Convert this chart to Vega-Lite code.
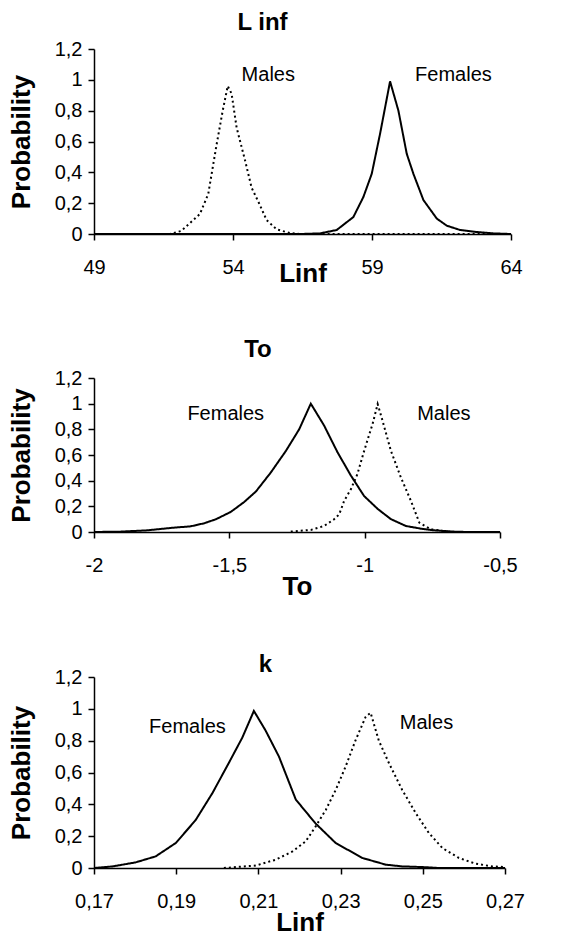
{
  "$schema": "https://vega.github.io/schema/vega-lite/v6.json",
  "padding": {"left": 8, "top": 11, "right": 5, "bottom": 0},
  "background": "white",
  "config": {
    "font": "Liberation Sans",
    "view": {"stroke": null},
    "title": {"fontSize": 24, "fontWeight": "bold", "color": "black", "font": "Liberation Sans"},
    "axis": {
      "domainColor": "black", "tickColor": "black", "labelColor": "black", "titleColor": "black",
      "labelFontSize": 20, "titleFontSize": 26, "titleFontWeight": "bold", "grid": false,
      "tickSize": 6, "domainWidth": 1.5, "tickWidth": 1.5, "labelFont": "Liberation Sans", "titleFont": "Liberation Sans",
      "labelExpr": "replace(toString(datum.value), '.', ',')"
    },
    "axisX": {"labelBaseline": "alphabetic", "labelPadding": 33, "titleBaseline": "alphabetic", "labelFlush": false},
    "axisY": {"labelPadding": 6, "titlePadding": 20, "values": [0, 0.2, 0.4, 0.6, 0.8, 1, 1.2]},
    "text": {"fontSize": 20, "color": "black", "font": "Liberation Sans"}
  },
  "datasets": {
    "linf": [
      {"x": 49, "p": 0, "sex": "Males"}, {"x": 51.0, "p": 0, "sex": "Males"}, {"x": 51.73, "p": 0, "sex": "Males"},
      {"x": 52.14, "p": 0.02, "sex": "Males"}, {"x": 52.81, "p": 0.13, "sex": "Males"}, {"x": 53.11, "p": 0.26, "sex": "Males"},
      {"x": 53.41, "p": 0.58, "sex": "Males"}, {"x": 53.63, "p": 0.8, "sex": "Males"}, {"x": 53.81, "p": 0.96, "sex": "Males"},
      {"x": 53.95, "p": 0.91, "sex": "Males"}, {"x": 54.13, "p": 0.69, "sex": "Males"}, {"x": 54.43, "p": 0.48, "sex": "Males"},
      {"x": 54.67, "p": 0.3, "sex": "Males"}, {"x": 54.91, "p": 0.21, "sex": "Males"}, {"x": 55.21, "p": 0.09, "sex": "Males"},
      {"x": 55.57, "p": 0.03, "sex": "Males"}, {"x": 56.05, "p": 0.006, "sex": "Males"}, {"x": 56.41, "p": 0, "sex": "Males"},
      {"x": 64, "p": 0, "sex": "Males"},
      {"x": 49, "p": 0, "sex": "Females"}, {"x": 56.41, "p": 0, "sex": "Females"}, {"x": 57.13, "p": 0.004, "sex": "Females"},
      {"x": 57.73, "p": 0.026, "sex": "Females"}, {"x": 58.33, "p": 0.11, "sex": "Females"}, {"x": 58.69, "p": 0.24, "sex": "Females"},
      {"x": 58.99, "p": 0.39, "sex": "Females"}, {"x": 59.29, "p": 0.65, "sex": "Females"}, {"x": 59.65, "p": 0.99, "sex": "Females"},
      {"x": 59.95, "p": 0.8, "sex": "Females"}, {"x": 60.25, "p": 0.52, "sex": "Females"}, {"x": 60.49, "p": 0.39, "sex": "Females"},
      {"x": 60.85, "p": 0.22, "sex": "Females"}, {"x": 61.33, "p": 0.1, "sex": "Females"}, {"x": 61.69, "p": 0.054, "sex": "Females"},
      {"x": 62.17, "p": 0.026, "sex": "Females"}, {"x": 62.77, "p": 0.013, "sex": "Females"}, {"x": 63.37, "p": 0.004, "sex": "Females"},
      {"x": 64, "p": 0, "sex": "Females"}
    ],
    "linfLabels": [
      {"x": 54.31, "p": 1.03, "label": "Males"},
      {"x": 60.55, "p": 1.03, "label": "Females"}
    ],
    "to": [
      {"x": -2, "p": 0, "sex": "Females"}, {"x": -1.901, "p": 0.003, "sex": "Females"}, {"x": -1.803, "p": 0.013, "sex": "Females"},
      {"x": -1.704, "p": 0.034, "sex": "Females"}, {"x": -1.643, "p": 0.044, "sex": "Females"}, {"x": -1.593, "p": 0.068, "sex": "Females"},
      {"x": -1.55, "p": 0.099, "sex": "Females"}, {"x": -1.495, "p": 0.156, "sex": "Females"}, {"x": -1.445, "p": 0.234, "sex": "Females"},
      {"x": -1.402, "p": 0.315, "sex": "Females"}, {"x": -1.347, "p": 0.463, "sex": "Females"}, {"x": -1.291, "p": 0.632, "sex": "Females"},
      {"x": -1.242, "p": 0.8, "sex": "Females"}, {"x": -1.199, "p": 1.0, "sex": "Females"}, {"x": -1.15, "p": 0.83, "sex": "Females"},
      {"x": -1.1, "p": 0.62, "sex": "Females"}, {"x": -1.051, "p": 0.44, "sex": "Females"}, {"x": -1.002, "p": 0.28, "sex": "Females"},
      {"x": -0.952, "p": 0.18, "sex": "Females"}, {"x": -0.903, "p": 0.1, "sex": "Females"}, {"x": -0.848, "p": 0.047, "sex": "Females"},
      {"x": -0.792, "p": 0.026, "sex": "Females"}, {"x": -0.743, "p": 0.013, "sex": "Females"}, {"x": -0.669, "p": 0.003, "sex": "Females"},
      {"x": -0.62, "p": 0, "sex": "Females"}, {"x": -0.5, "p": 0, "sex": "Females"},
      {"x": -1.273, "p": 0.003, "sex": "Males"}, {"x": -1.199, "p": 0.016, "sex": "Males"}, {"x": -1.15, "p": 0.047, "sex": "Males"},
      {"x": -1.113, "p": 0.099, "sex": "Males"}, {"x": -1.094, "p": 0.138, "sex": "Males"}, {"x": -1.076, "p": 0.242, "sex": "Males"},
      {"x": -1.051, "p": 0.333, "sex": "Males"}, {"x": -1.027, "p": 0.45, "sex": "Males"}, {"x": -1.002, "p": 0.632, "sex": "Males"},
      {"x": -0.971, "p": 0.84, "sex": "Males"}, {"x": -0.952, "p": 0.997, "sex": "Males"}, {"x": -0.934, "p": 0.867, "sex": "Males"},
      {"x": -0.903, "p": 0.632, "sex": "Males"}, {"x": -0.866, "p": 0.424, "sex": "Males"}, {"x": -0.829, "p": 0.242, "sex": "Males"},
      {"x": -0.798, "p": 0.073, "sex": "Males"}, {"x": -0.755, "p": 0.021, "sex": "Males"}, {"x": -0.693, "p": 0.003, "sex": "Males"}
    ],
    "toLabels": [
      {"x": -1.655, "p": 0.92, "label": "Females"},
      {"x": -0.806, "p": 0.92, "label": "Males"}
    ],
    "k": [
      {"x": 0.17, "p": 0, "sex": "Females"}, {"x": 0.1745, "p": 0.01, "sex": "Females"}, {"x": 0.1801, "p": 0.035, "sex": "Females"},
      {"x": 0.185, "p": 0.073, "sex": "Females"}, {"x": 0.1899, "p": 0.157, "sex": "Females"}, {"x": 0.1947, "p": 0.3, "sex": "Females"},
      {"x": 0.1988, "p": 0.47, "sex": "Females"}, {"x": 0.2028, "p": 0.66, "sex": "Females"}, {"x": 0.2061, "p": 0.82, "sex": "Females"},
      {"x": 0.2089, "p": 0.987, "sex": "Females"}, {"x": 0.2117, "p": 0.866, "sex": "Females"}, {"x": 0.215, "p": 0.7, "sex": "Females"},
      {"x": 0.2191, "p": 0.43, "sex": "Females"}, {"x": 0.2239, "p": 0.28, "sex": "Females"}, {"x": 0.2288, "p": 0.157, "sex": "Females"},
      {"x": 0.2353, "p": 0.063, "sex": "Females"}, {"x": 0.241, "p": 0.021, "sex": "Females"}, {"x": 0.245, "p": 0.01, "sex": "Females"},
      {"x": 0.2499, "p": 0.006, "sex": "Females"}, {"x": 0.2539, "p": 0, "sex": "Females"}, {"x": 0.27, "p": 0, "sex": "Females"},
      {"x": 0.2016, "p": 0, "sex": "Males"}, {"x": 0.2093, "p": 0.015, "sex": "Males"}, {"x": 0.2142, "p": 0.052, "sex": "Males"},
      {"x": 0.2183, "p": 0.104, "sex": "Males"}, {"x": 0.2215, "p": 0.167, "sex": "Males"}, {"x": 0.2239, "p": 0.26, "sex": "Males"},
      {"x": 0.2264, "p": 0.365, "sex": "Males"}, {"x": 0.2288, "p": 0.49, "sex": "Males"}, {"x": 0.2312, "p": 0.636, "sex": "Males"},
      {"x": 0.2336, "p": 0.8, "sex": "Males"}, {"x": 0.2361, "p": 0.95, "sex": "Males"}, {"x": 0.2373, "p": 0.975, "sex": "Males"},
      {"x": 0.2393, "p": 0.8, "sex": "Males"}, {"x": 0.2418, "p": 0.657, "sex": "Males"}, {"x": 0.245, "p": 0.49, "sex": "Males"},
      {"x": 0.2483, "p": 0.344, "sex": "Males"}, {"x": 0.2515, "p": 0.219, "sex": "Males"}, {"x": 0.2548, "p": 0.125, "sex": "Males"},
      {"x": 0.2588, "p": 0.063, "sex": "Males"}, {"x": 0.2629, "p": 0.027, "sex": "Males"}, {"x": 0.2669, "p": 0.01, "sex": "Males"},
      {"x": 0.27, "p": 0.006, "sex": "Males"}
    ],
    "kLabels": [
      {"x": 0.1834, "p": 0.887, "label": "Females"},
      {"x": 0.2444, "p": 0.908, "label": "Males"}
    ]
  },
  "spacing": 52,
  "vconcat": [
    {
      "width": 417, "height": 185,
      "title": {"text": "L inf", "dx": -40, "offset": 4},
      "layer": [
        {
          "data": {"name": "linf"},
          "mark": {"type": "line", "color": "black", "strokeWidth": 2},
          "encoding": {
            "x": {"field": "x", "type": "quantitative", "scale": {"domain": [49, 64], "nice": false, "zero": false},
                  "axis": {"values": [49, 54, 59, 64], "title": "Linf", "titleY": 47}},
            "y": {"field": "p", "type": "quantitative", "scale": {"domain": [0, 1.2], "nice": false}, "axis": {"title": "Probability"}},
            "strokeDash": {"field": "sex", "type": "nominal", "scale": {"domain": ["Females", "Males"], "range": [[1, 0], [2, 3]]}, "legend": null}
          }
        },
        {
          "data": {"name": "linfLabels"},
          "mark": {"type": "text", "align": "left", "baseline": "middle"},
          "encoding": {
            "x": {"field": "x", "type": "quantitative"},
            "y": {"field": "p", "type": "quantitative"},
            "text": {"field": "label"}
          }
        }
      ]
    },
    {
      "spacing": 54,
      "vconcat": [
        {
          "width": 406, "height": 154,
          "title": {"text": "To", "dx": -39, "offset": 6},
          "layer": [
            {
              "data": {"name": "to"},
              "mark": {"type": "line", "color": "black", "strokeWidth": 2},
              "encoding": {
                "x": {"field": "x", "type": "quantitative", "scale": {"domain": [-2, -0.5], "nice": false, "zero": false},
                      "axis": {"values": [-2, -1.5, -1, -0.5], "title": "To", "titleY": 62}},
                "y": {"field": "p", "type": "quantitative", "scale": {"domain": [0, 1.2], "nice": false}, "axis": {"title": "Probability"}},
                "strokeDash": {"field": "sex", "type": "nominal", "scale": {"domain": ["Females", "Males"], "range": [[1, 0], [2, 3]]}, "legend": null}
              }
            },
            {
              "data": {"name": "toLabels"},
              "mark": {"type": "text", "align": "left", "baseline": "middle"},
              "encoding": {
                "x": {"field": "x", "type": "quantitative"},
                "y": {"field": "p", "type": "quantitative"},
                "text": {"field": "label"}
              }
            }
          ]
        },
        {
          "width": 411, "height": 191,
          "title": {"text": "k", "dx": -34, "offset": -10},
          "layer": [
            {
              "data": {"name": "k"},
              "mark": {"type": "line", "color": "black", "strokeWidth": 2},
              "encoding": {
                "x": {"field": "x", "type": "quantitative", "scale": {"domain": [0.17, 0.27], "nice": false, "zero": false},
                      "axis": {"values": [0.17, 0.19, 0.21, 0.23, 0.25, 0.27], "title": "Linf", "titleY": 62}},
                "y": {"field": "p", "type": "quantitative", "scale": {"domain": [0, 1.2], "nice": false}, "axis": {"title": "Probability"}},
                "strokeDash": {"field": "sex", "type": "nominal", "scale": {"domain": ["Females", "Males"], "range": [[1, 0], [2, 3]]}, "legend": null}
              }
            },
            {
              "data": {"name": "kLabels"},
              "mark": {"type": "text", "align": "left", "baseline": "middle"},
              "encoding": {
                "x": {"field": "x", "type": "quantitative"},
                "y": {"field": "p", "type": "quantitative"},
                "text": {"field": "label"}
              }
            }
          ]
        }
      ]
    }
  ]
}
